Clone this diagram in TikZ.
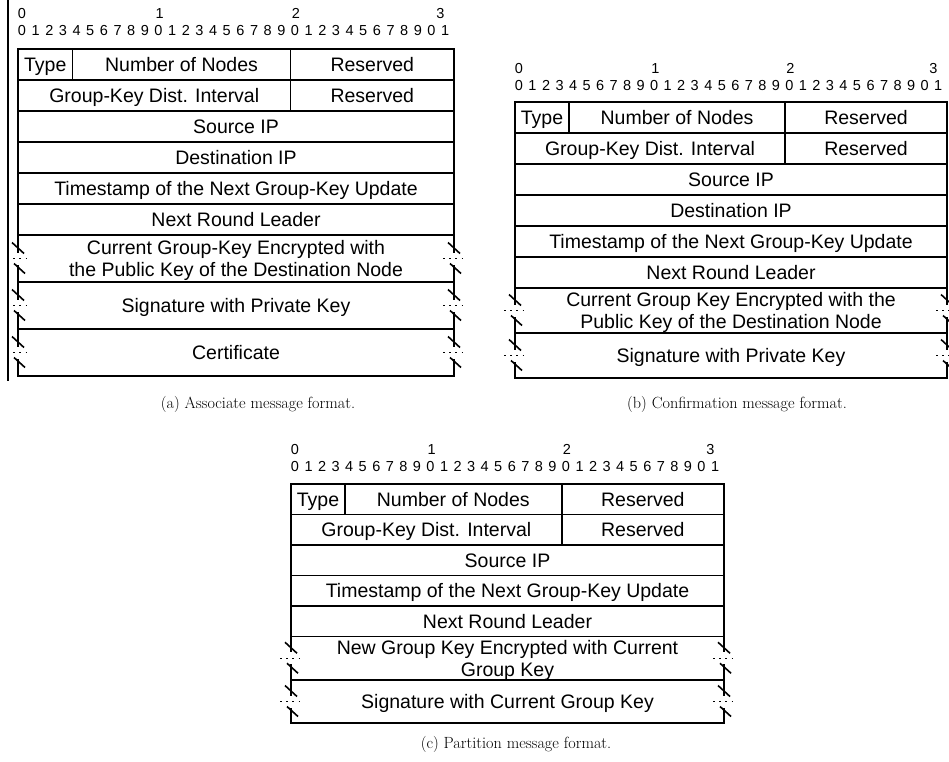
\documentclass[tikz,border=0pt]{standalone}
\usepackage{fontspec}
\newfontfamily\arialf{Liberation Sans}
\newcommand{\fldfont}{\arialf\fontsize{19.5}{22}\selectfont}
\newcommand{\bitfont}{\arialf\fontsize{14.5}{16}\selectfont}
\newcommand{\mycapfont}{\fontsize{16.2}{19}\selectfont}
\begin{document}
\begin{tikzpicture}[x=1pt,y=-1pt,
  frame/.style={line width=1.8pt},
  fld/.style={font=\fldfont, inner sep=0pt, anchor=center, text height=14pt, text depth=0pt},
  bitnum/.style={font=\bitfont, inner sep=0pt, anchor=center, text height=10.4pt, text depth=0pt},
  capt/.style={font=\mycapfont, inner sep=0pt, anchor=center},
  brkmark/.pic={
    \fill[white] (-2.5,-6) rectangle (2.5,6);
    \draw[line width=1.6pt] (-6,-16) -- (6,-5);
    \draw[line width=1.6pt] (-4,5) -- (7,15);
    \draw[line width=1.3pt, dash pattern=on 1.6pt off 4.6pt] (-11,0) -- (13,0);
  }]
\useasboundingbox (0,0) rectangle (949,761);
\fill[white] (0,0) rectangle (949,761);

% left margin rule
\coordinate (vtop) at (8,0);
\coordinate (vbot) at (8,381);
\draw[line width=1.3pt] (vtop) -- (vbot);

% ================= (a) =================
\draw[frame] (18,49) rectangle (454,376);
\foreach \y in {80,111,142,173,204,235,282,329} \draw[frame] (18,\y) -- (454,\y);
\draw[frame] (72.5,49) -- (72.5,80);
\draw[frame] (290.5,49) -- (290.5,111);
\node[bitnum] (a-h0) at (22,13) {0};
\node[bitnum] (a-h1) at ({18+10.4*13.625},13) {1};
\node[bitnum] (a-h2) at ({18+20.4*13.625},13) {2};
\node[bitnum] (a-h3) at ({18+31.0*13.625},13) {3};
\foreach \i in {0,...,31}{
  \pgfmathtruncatemacro\d{mod(\i,10)}
  \node[bitnum] (a-b\i) at ({22+\i*13.65},30) {\d};
}
\node[fld] (a-type) at (45.25,64.5) {Type};
\node[fld] (a-non) at (181.5,64.5) {Number of Nodes};
\node[fld] (a-res1) at (372.25,64.5) {Reserved};
\node[fld] (a-gk) at (154.25,95.5) {Group-Key Dist. Interval};
\node[fld] (a-res2) at (372.25,95.5) {Reserved};
\node[fld] (a-src) at (236,126.5) {Source IP};
\node[fld] (a-dst) at (236,157.5) {Destination IP};
\node[fld] (a-ts) at (236,188.5) {Timestamp of the Next Group-Key Update};
\node[fld] (a-nrl) at (236,219.5) {Next Round Leader};
\node[fld] (a-cur1) at (236,247.5) {Current Group-Key Encrypted with};
\node[fld] (a-cur2) at (236,269.5) {the Public Key of the Destination Node};
\node[fld] (a-sig) at (236,305.5) {Signature with Private Key};
\node[fld] (a-cert) at (236,352.5) {Certificate};
\foreach \m in {258.5,305.5,352.5}{
  \pic at (18,\m) {brkmark};
  \pic at (454,\m) {brkmark};
}
\node[capt] (a-cap) at (258,404) {(a) Associate message format.};

% ================= (b) =================
\draw[frame] (515,102) rectangle (947,378);
\foreach \y in {133,164,195,226,257,288,333} \draw[frame] (515,\y) -- (947,\y);
\draw[frame] (569,102) -- (569,133);
\draw[frame] (785,102) -- (785,164);
\node[bitnum] (b-h0) at (519,68) {0};
\node[bitnum] (b-h1) at ({515+10.4*13.5},68) {1};
\node[bitnum] (b-h2) at ({515+20.4*13.5},68) {2};
\node[bitnum] (b-h3) at ({515+31.0*13.5},68) {3};
\foreach \i in {0,...,31}{
  \pgfmathtruncatemacro\d{mod(\i,10)}
  \node[bitnum] (b-b\i) at ({519+\i*13.52},85) {\d};
}
\node[fld] (b-type) at (542,117.5) {Type};
\node[fld] (b-non) at (677,117.5) {Number of Nodes};
\node[fld] (b-res1) at (866,117.5) {Reserved};
\node[fld] (b-gk) at (650,148.5) {Group-Key Dist. Interval};
\node[fld] (b-res2) at (866,148.5) {Reserved};
\node[fld] (b-src) at (731,179.5) {Source IP};
\node[fld] (b-dst) at (731,210.5) {Destination IP};
\node[fld] (b-ts) at (731,241.5) {Timestamp of the Next Group-Key Update};
\node[fld] (b-nrl) at (731,272.5) {Next Round Leader};
\node[fld] (b-cur1) at (731,299.5) {Current Group Key Encrypted with the};
\node[fld] (b-cur2) at (731,321.5) {Public Key of the Destination Node};
\node[fld] (b-sig) at (731,355.5) {Signature with Private Key};
\foreach \m in {310.5,355.5}{
  \pic at (515,\m) {brkmark};
  \pic at (947,\m) {brkmark};
}
\node[capt] (b-cap) at (737,404) {(b) Confirmation message format.};

% ================= (c) =================
\draw[frame] (291,484) rectangle (724,723);
\foreach \y in {514.5,545,575.5,606,636.5,680} \draw[frame] (291,\y) -- (724,\y);
\draw[frame] (345,484) -- (345,514.5);
\draw[frame] (561.6,484) -- (561.6,545);
\node[bitnum] (c-h0) at (295,449) {0};
\node[bitnum] (c-h1) at ({291+10.4*13.53},449) {1};
\node[bitnum] (c-h2) at ({291+20.4*13.53},449) {2};
\node[bitnum] (c-h3) at ({291+31.0*13.53},449) {3};
\foreach \i in {0,...,31}{
  \pgfmathtruncatemacro\d{mod(\i,10)}
  \node[bitnum] (c-b\i) at ({295+\i*13.55},466) {\d};
}
\node[fld] (c-type) at (318,499.25) {Type};
\node[fld] (c-non) at (453.3,499.25) {Number of Nodes};
\node[fld] (c-res1) at (642.8,499.25) {Reserved};
\node[fld] (c-gk) at (426.3,529.75) {Group-Key Dist. Interval};
\node[fld] (c-res2) at (642.8,529.75) {Reserved};
\node[fld] (c-src) at (507.5,560.25) {Source IP};
\node[fld] (c-ts) at (507.5,590.75) {Timestamp of the Next Group-Key Update};
\node[fld] (c-nrl) at (507.5,621.25) {Next Round Leader};
\node[fld] (c-new1) at (507.5,647.5) {New Group Key Encrypted with Current};
\node[fld] (c-new2) at (507.5,669.5) {Group Key};
\node[fld] (c-sig) at (507.5,701.5) {Signature with Current Group Key};
\foreach \m in {658.25,701.5}{
  \pic at (291,\m) {brkmark};
  \pic at (724,\m) {brkmark};
}
\node[capt] (c-cap) at (516,744) {(c) Partition message format.};
\end{tikzpicture}
\end{document}
